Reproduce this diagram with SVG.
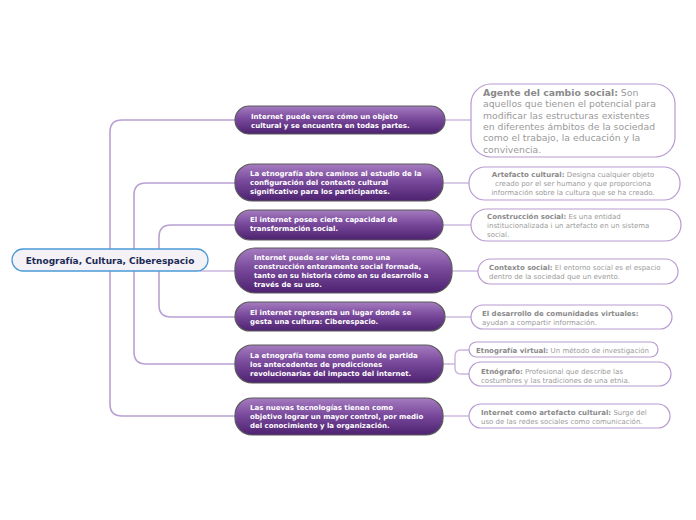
<svg xmlns="http://www.w3.org/2000/svg" width="696" height="520" viewBox="0 0 696 520">
<defs>
<linearGradient id="pg" x1="0" y1="0" x2="0" y2="1">
<stop offset="0" stop-color="#a57cc0"/>
<stop offset="0.45" stop-color="#7a4a9c"/>
<stop offset="1" stop-color="#4d2270"/>
</linearGradient>
<style>
.mid{fill:url(#pg);stroke:#5a5a5a;stroke-width:1.2}
.mt{font-family:"DejaVu Sans",Verdana,sans-serif;font-weight:bold;font-size:7px;fill:#ffffff}
.leaf{fill:#ffffff;stroke:#b79ad0;stroke-width:1.2}
.lt{font-family:"DejaVu Sans",Verdana,sans-serif;font-size:7px;fill:#9a9a9a}
.lt tspan.b{font-weight:bold;fill:#8a8a8a}
.bt{font-size:9.3px}
.con{fill:none;stroke:#c9b6de;stroke-width:1.4}
.trunk{fill:none;stroke:#b9a0d3;stroke-width:1.6}
</style>
</defs>
<rect width="696" height="520" fill="#ffffff"/>
<g id="connectors">
<path class="trunk" d="M110,260 V132 Q110,120 122,120 H235"/>
<path class="trunk" d="M110,260 V404 Q110,416 122,416 H235"/>
<path class="trunk" d="M134,260 V195 Q134,183 146,183 H235"/>
<path class="trunk" d="M134,260 V352 Q134,364 146,364 H235"/>
<path class="trunk" d="M159,260 V237 Q159,225 171,225 H235"/>
<path class="trunk" d="M159,260 V305 Q159,317 171,317 H235"/>
<path class="con" d="M200,271 H235"/>
<path class="con" d="M445,120 H471"/>
<path class="con" d="M443,183 H469"/>
<path class="con" d="M443,225 H471"/>
<path class="con" d="M452,271 H478"/>
<path class="con" d="M445,317 H471"/>
<path class="con" d="M443,364 H455 M469,350 H461 Q455,350 455,356 V368 Q455,374 461,374 H469"/>
<path class="con" d="M443,416 H469"/>
</g>
<g id="root">
<rect x="12" y="249" width="196" height="22" rx="11" fill="#f4f2f6" stroke="#4a9ad8" stroke-width="1.3"/>
<text x="110" y="263.5" text-anchor="middle" font-family="'DejaVu Sans',Verdana,sans-serif" font-weight="bold" font-size="9" fill="#1b2a55">Etnografía, Cultura, Ciberespacio</text>
</g>
<g id="n1">
<rect class="mid" x="235" y="106" width="210" height="28" rx="14"/>
<text class="mt"><tspan x="251" y="118.5">Internet puede verse cómo un objeto</tspan><tspan x="251" y="127.5">cultural y se encuentra en todas partes.</tspan></text>
</g>
<g id="n2">
<rect class="mid" x="235" y="164" width="208" height="37" rx="17"/>
<text class="mt"><tspan x="250" y="176">La etnografía abre caminos al estudio de la</tspan><tspan x="250" y="185">configuración del contexto cultural</tspan><tspan x="250" y="194">significativo para los participantes.</tspan></text>
</g>
<g id="n3">
<rect class="mid" x="235" y="210" width="208" height="30" rx="15"/>
<text class="mt"><tspan x="250" y="222">El internet posee cierta capacidad de</tspan><tspan x="250" y="231">transformación social.</tspan></text>
</g>
<g id="n4">
<rect class="mid" x="235" y="248" width="217" height="45" rx="20"/>
<text class="mt"><tspan x="254" y="260">Internet puede ser vista como una</tspan><tspan x="254" y="269">construcción enteramente social formada,</tspan><tspan x="254" y="278">tanto en su historia cómo en su desarrollo a</tspan><tspan x="254" y="287">través de su uso.</tspan></text>
</g>
<g id="n5">
<rect class="mid" x="235" y="302" width="210" height="29" rx="14.5"/>
<text class="mt"><tspan x="250" y="314.5">El internet representa un lugar donde se</tspan><tspan x="250" y="323.5">gesta una cultura: Ciberespacio.</tspan></text>
</g>
<g id="n6">
<rect class="mid" x="235" y="345" width="208" height="38" rx="17"/>
<text class="mt"><tspan x="250" y="358">La etnografía toma como punto de partida</tspan><tspan x="250" y="367">los antecedentes de predicciones</tspan><tspan x="250" y="376">revolucionarias del impacto del internet.</tspan></text>
</g>
<g id="n7">
<rect class="mid" x="235" y="398" width="208" height="37" rx="17"/>
<text class="mt"><tspan x="250" y="410">Las nuevas tecnologías tienen como</tspan><tspan x="250" y="419">objetivo lograr un mayor control, por medio</tspan><tspan x="250" y="428">del conocimiento y la organización.</tspan></text>
</g>
<g id="l1">
<rect class="leaf" x="471" y="84" width="204" height="73" rx="20"/>
<text class="lt bt"><tspan x="483" y="96"><tspan class="b">Agente del cambio social:</tspan> Son</tspan><tspan x="483" y="107.3">aquellos que tienen el potencial para</tspan><tspan x="483" y="118.6">modificar las estructuras existentes</tspan><tspan x="483" y="129.9">en diferentes ámbitos de la sociedad</tspan><tspan x="483" y="141.2">como el trabajo, la educación y la</tspan><tspan x="483" y="152.5">convivencia.</tspan></text>
</g>
<g id="l2">
<rect class="leaf" x="469" y="167" width="211" height="33" rx="16"/>
<text class="lt" text-anchor="middle"><tspan x="573" y="176.5"><tspan class="b">Artefacto cultural:</tspan> Designa cualquier objeto</tspan><tspan x="573" y="185.5">creado por el ser humano y que proporciona</tspan><tspan x="573" y="194.5">información sobre la cultura que se ha creado.</tspan></text>
</g>
<g id="l3">
<rect class="leaf" x="471" y="209" width="210" height="32" rx="16"/>
<text class="lt"><tspan x="487" y="218.5"><tspan class="b">Construcción social:</tspan> Es una entidad</tspan><tspan x="487" y="227.5">institucionalizada i un artefacto en un sistema</tspan><tspan x="487" y="236.5">social.</tspan></text>
</g>
<g id="l4">
<rect class="leaf" x="478" y="259" width="200" height="25" rx="12.5"/>
<text class="lt"><tspan x="489" y="269.5"><tspan class="b">Contexto social:</tspan> El entorno social es el espacio</tspan><tspan x="489" y="278.5">dentro de la sociedad que un evento.</tspan></text>
</g>
<g id="l5">
<rect class="leaf" x="471" y="305" width="201" height="24" rx="12"/>
<text class="lt"><tspan x="482" y="315.5"><tspan class="b">El desarrollo de comunidades virtuales:</tspan></tspan><tspan x="482" y="324.5">ayudan a compartir información.</tspan></text>
</g>
<g id="l6">
<rect class="leaf" x="469" y="342" width="189" height="15" rx="7.5"/>
<text class="lt"><tspan x="476" y="352.5"><tspan class="b">Etnografía virtual:</tspan> Un método de investigación</tspan></text>
</g>
<g id="l7">
<rect class="leaf" x="469" y="362" width="202" height="24" rx="12"/>
<text class="lt"><tspan x="481" y="373.5"><tspan class="b">Etnógrafo:</tspan> Profesional que describe las</tspan><tspan x="481" y="382.5">costumbres y las tradiciones de una etnia.</tspan></text>
</g>
<g id="l8">
<rect class="leaf" x="469" y="404" width="201" height="24" rx="12"/>
<text class="lt"><tspan x="481" y="414.5"><tspan class="b">Internet como artefacto cultural:</tspan> Surge del</tspan><tspan x="481" y="423.5">uso de las redes sociales como comunicación.</tspan></text>
</g>
</svg>
